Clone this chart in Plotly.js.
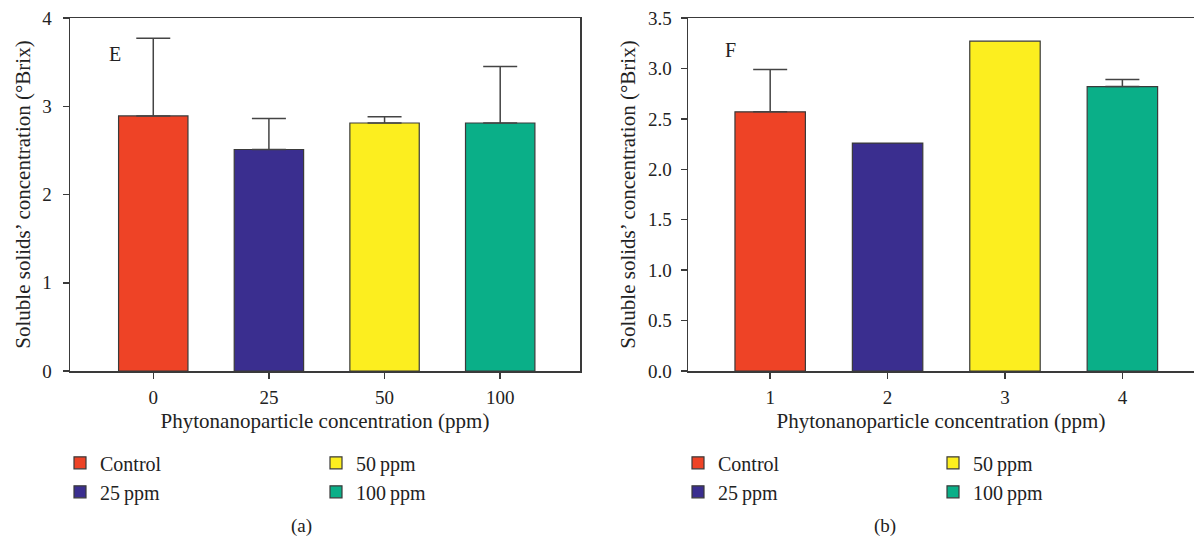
<!DOCTYPE html>
<html><head><meta charset="utf-8">
<script src="https://cdn.plot.ly/plotly-3.0.1.min.js"></script>
<style>body{margin:0}#c{width:1194px;height:544px}</style>
</head><body><div id="c"></div>
<script>
const seriesNames = ["Control", "25\u2009ppm", "50\u2009ppm", "100\u2009ppm"];
const colors = ["#EE4326", "#3A2E8F", "#FCEE1F", "#0AAF88"];
const catsA = ["0", "25", "50", "100"];
const valuesA = [2.89, 2.51, 2.81, 2.81];
const errA = [0.88, 0.35, 0.07, 0.64];
const catsB = ["1", "2", "3", "4"];
const valuesB = [2.57, 2.26, 3.27, 2.82];
const errB = [0.42, 0, 0, 0.07];
const legendRank = [1, 2, 1, 2];

const FONT = "Liberation Serif";
const traces = [];
const legendOf = (panel, i) => {
  const col = i < 2 ? 0 : 1;
  const idx = panel * 2 + col + 1;
  return idx === 1 ? "legend" : "legend" + idx;
};
function addPanel(cats, vals, errs, panel) {
  for (let i = 0; i < 4; i++) {
    traces.push({
      type: "bar", x: [cats[i]], y: [vals[i]], name: seriesNames[i],
      xaxis: panel ? "x2" : "x", yaxis: panel ? "y2" : "y", width: 0.6,
      marker: {color: colors[i], line: {color: "#3a3a3a", width: 1.2}},
      error_y: {type: "data", array: [errs[i]], arrayminus: [0], symmetric: false, visible: errs[i] > 0, color: "#444", thickness: 1.5, width: 17},
      legend: legendOf(panel, i), legendgroup: (panel ? "b" : "a") + i, legendrank: legendRank[i], showlegend: true
    });
  }
}
addPanel(catsA, valuesA, errA, 0);
addPanel(catsB, valuesB, errB, 1);

const axisCommon = {
  showgrid: false, zeroline: false, showline: true, linecolor: "#3a3a3a", linewidth: 1.5,
  ticks: "outside", ticklen: 6, tickwidth: 1.5, tickcolor: "#3a3a3a",
  tickfont: {family: FONT, size: 19, color: "#222"}, automargin: false
};
const xTitle = {text: "Phytonanoparticle concentration (ppm)", font: {family: FONT, size: 21, color: "#222"}, standoff: 6};
const yTitle = {text: "Soluble solids\u2019 concentration (\u00B0Brix)", font: {family: FONT, size: 21, color: "#222"}};
const legFont = {family: FONT, size: 20, color: "#222"};
const legBase = {orientation: "v", xanchor: "left", yanchor: "top", font: legFont, bgcolor: "rgba(0,0,0,0)", tracegroupgap: 0, itemwidth: 30};

const layout = {
  width: 1194, height: 544, paper_bgcolor: "#fff", plot_bgcolor: "#fff",
  margin: {l: 0, r: 0, t: 18, b: 173}, barmode: "overlay", showlegend: true,
  font: {family: FONT, color: "#222"},
  xaxis: Object.assign({}, axisCommon, {domain: [70/1194, 580/1194], type: "category", range: [-0.72, 3.69], mirror: true, anchor: "y", ticklabelstandoff: 3, title: xTitle}),
  yaxis: Object.assign({}, axisCommon, {domain: [0, 1], range: [0, 4], dtick: 1, mirror: true, anchor: "x", ticklabelstandoff: 7, title: Object.assign({}, yTitle, {standoff: 6})}),
  xaxis2: Object.assign({}, axisCommon, {domain: [688/1194, 1], type: "category", range: [-0.7, 3.61], mirror: true, anchor: "y2", ticklabelstandoff: 3, title: xTitle}),
  yaxis2: Object.assign({}, axisCommon, {domain: [0, 1], range: [0, 3.5], dtick: 0.5, tickformat: ".1f", mirror: false, anchor: "x2", ticklabelstandoff: 5, title: Object.assign({}, yTitle, {standoff: 6})}),
  legend: Object.assign({}, legBase, {x: 60/1194, y: -0.205}),
  legend2: Object.assign({}, legBase, {x: 316/1194, y: -0.205}),
  legend3: Object.assign({}, legBase, {x: 678/1194, y: -0.205}),
  legend4: Object.assign({}, legBase, {x: 933/1194, y: -0.205}),
  annotations: [
    {text: "E", xref: "x domain", yref: "y domain", x: 0.072, y: 0.935, showarrow: false, font: {family: FONT, size: 20, color: "#222"}},
    {text: "F", xref: "x2 domain", yref: "y2 domain", x: 0.07, y: 0.945, showarrow: false, font: {family: FONT, size: 20, color: "#222"}},
    {text: "(a)", xref: "paper", yref: "paper", x: 289/1194, y: -0.475, showarrow: false, font: {family: FONT, size: 19, color: "#222"}},
    {text: "(b)", xref: "paper", yref: "paper", x: 898/1194, y: -0.475, showarrow: false, font: {family: FONT, size: 19, color: "#222"}}
  ]
};
Plotly.newPlot("c", traces, layout, {displayModeBar: false, staticPlot: true});
</script></body></html>
